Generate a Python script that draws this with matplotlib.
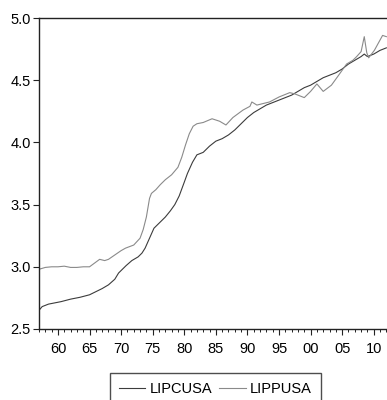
import matplotlib
matplotlib.use("Agg")
import matplotlib.pyplot as plt
from matplotlib.ticker import MultipleLocator, FixedLocator

lipc_years = [1957.0, 1957.5, 1958.5, 1959.5, 1960.5, 1962.0, 1963.5, 1965.0, 1966.0, 1967.0,
              1968.0, 1969.0, 1969.6, 1970.8, 1971.7, 1972.7, 1973.3, 1973.8, 1974.5, 1975.2,
              1976.0, 1977.0, 1977.8, 1978.5, 1979.2, 1980.0, 1980.5, 1981.3, 1982.0, 1983.0,
              1984.0, 1985.0, 1986.0, 1987.0, 1988.0, 1989.0, 1990.0, 1991.0, 1992.0, 1993.0,
              1994.0, 1995.0, 1996.0, 1997.0, 1998.0, 1999.0, 2000.0, 2001.0, 2002.0, 2003.0,
              2004.0, 2005.0, 2006.0, 2007.0, 2008.0, 2008.5, 2009.0, 2010.0, 2011.0, 2012.0]
lipc_values = [2.65, 2.68, 2.70, 2.71, 2.72, 2.74, 2.755, 2.775, 2.80, 2.825,
               2.855, 2.90, 2.95, 3.01, 3.05, 3.08, 3.11, 3.15, 3.23, 3.31,
               3.35, 3.40, 3.45, 3.50, 3.57, 3.68, 3.75, 3.84, 3.90, 3.92,
               3.97, 4.01, 4.03, 4.06, 4.10, 4.15, 4.20, 4.24, 4.27, 4.30,
               4.32, 4.34, 4.36, 4.38, 4.41, 4.44, 4.46, 4.49, 4.52, 4.54,
               4.56, 4.59, 4.63, 4.66, 4.69, 4.71, 4.69, 4.71, 4.74, 4.76]

lipp_years = [1957.0, 1958.0, 1959.0, 1960.0, 1961.0, 1962.0, 1963.0, 1964.0, 1965.0, 1965.8,
              1966.6, 1967.4, 1968.0, 1969.0, 1970.0, 1970.7, 1972.0, 1973.0, 1973.5, 1974.0,
              1974.5, 1974.8, 1975.5, 1976.2, 1977.0, 1978.0, 1979.0, 1979.6, 1980.2, 1980.8,
              1981.4, 1982.0, 1983.0, 1984.4, 1985.6, 1986.6, 1987.7, 1989.3, 1990.4, 1990.7,
              1991.5, 1993.5, 1995.0, 1996.7, 1997.5, 1999.0, 2000.0, 2001.0, 2002.0, 2003.3,
              2004.3, 2005.0, 2005.7, 2006.7, 2007.3, 2008.0, 2008.5, 2008.9, 2009.2, 2010.1,
              2011.4, 2012.0]
lipp_values = [2.98, 2.995, 3.00, 3.00, 3.005, 2.995, 2.995, 3.00, 3.00, 3.03,
               3.06, 3.05, 3.06, 3.095, 3.13, 3.15, 3.175, 3.23, 3.30, 3.40,
               3.55, 3.59, 3.62, 3.66, 3.70, 3.74, 3.80, 3.88, 3.98, 4.07,
               4.13, 4.15, 4.16, 4.19, 4.17, 4.14, 4.20, 4.26, 4.29, 4.325,
               4.30, 4.325, 4.365, 4.40, 4.39, 4.36, 4.41, 4.47, 4.41, 4.46,
               4.53, 4.58, 4.63, 4.66, 4.69, 4.73, 4.85, 4.72, 4.68, 4.74,
               4.86, 4.85]

x_tick_years = [1960, 1965, 1970, 1975, 1980, 1985, 1990, 1995, 2000, 2005, 2010]
x_tick_labels = ["60", "65", "70", "75", "80", "85", "90", "95", "00", "05", "10"]
y_ticks = [2.5, 3.0, 3.5, 4.0, 4.5, 5.0]

plt.rcParams['font.family'] = ['Liberation Sans', 'DejaVu Sans']

fig = plt.figure(figsize=(3.87, 4.0), dpi=100)
ax = fig.add_axes([39/387, 1 - 329/400, 1 - 39/387 + 0.01, (329 - 18)/400])

ax.plot(lipc_years, lipc_values, color='#3c3c3c', lw=0.8, label='LIPCUSA')
ax.plot(lipp_years, lipp_values, color='#8a8a8a', lw=0.8, label='LIPPUSA')

ax.set_xlim(1957.0, 2012.1 + 0.01 * (55.1) / (1 - 39/387))
ax.set_ylim(2.5, 5.0)

ax.xaxis.set_major_locator(FixedLocator(x_tick_years))
ax.set_xticklabels(x_tick_labels)
ax.xaxis.set_minor_locator(MultipleLocator(1))
ax.set_yticks(y_ticks)
ax.set_yticklabels([f"{v:.1f}" for v in y_ticks])

for s in ['left', 'top', 'bottom']:
    ax.spines[s].set_color('#222222')
    ax.spines[s].set_linewidth(1.0)
ax.spines['right'].set_visible(False)

ax.tick_params(axis='both', which='major', labelsize=10.5, color='#222222',
               direction='out', length=4, width=0.8, pad=2)
ax.tick_params(axis='x', which='major', length=4.5, pad=5)
ax.tick_params(axis='x', which='minor', length=2.5, width=0.7, color='#222222', direction='out')

leg = fig.legend(loc='upper left', bbox_to_anchor=(110/387, 1 - 373/400), ncol=2,
                 fontsize=10.5, frameon=True, fancybox=False, handlelength=1.8,
                 handletextpad=0.3, columnspacing=0.5, borderpad=0.6, borderaxespad=0)
leg.get_frame().set_edgecolor('#222222')
leg.get_frame().set_linewidth(1.0)

fig.savefig('out.png', dpi=100)
